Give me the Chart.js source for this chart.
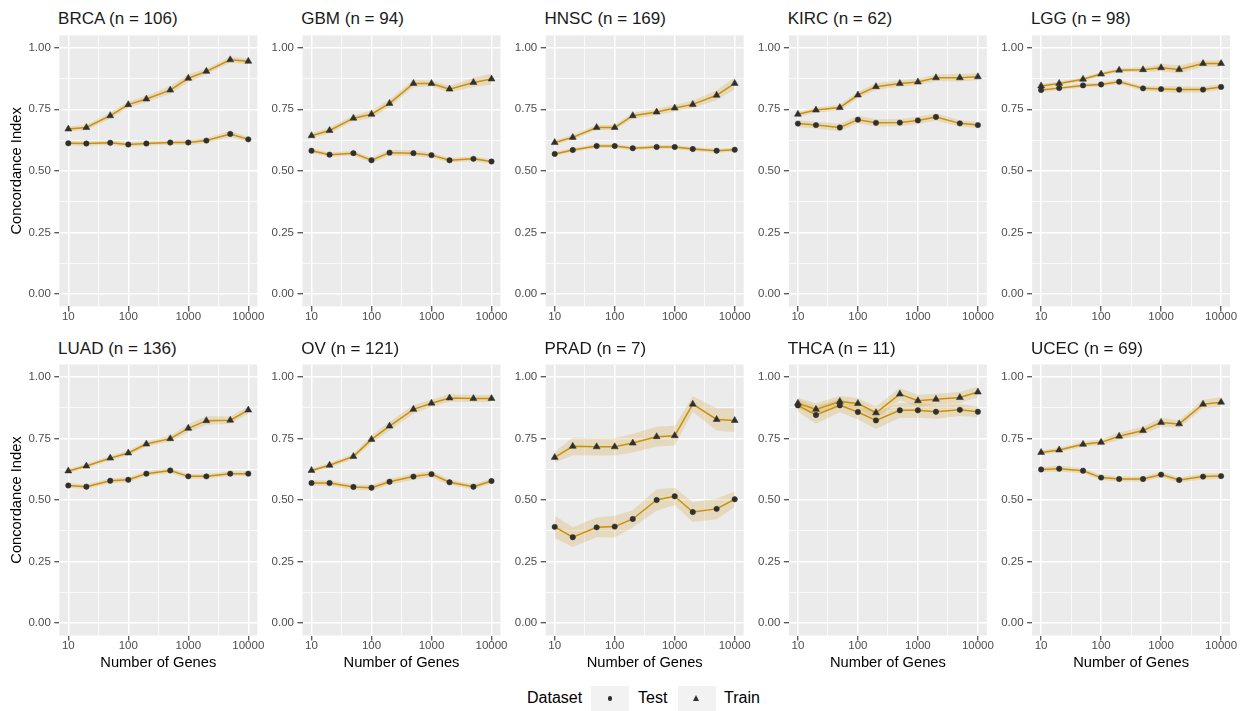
<!DOCTYPE html>
<html>
<head>
<meta charset="utf-8">
<script src="https://cdn.jsdelivr.net/npm/chart.js@4.4.1/dist/chart.umd.min.js"></script>
<style>
  body { margin: 0; background: #fff; width: 1245px; height: 711px; overflow: hidden; position: relative;
         font-family: "Liberation Sans", Arial, sans-serif; }
  .panel { position: absolute; }
  .strip { position: absolute; font-size: 17px; line-height: 17px; color: #1a1a1a; white-space: nowrap; }
  .lg { position: absolute; top: 690px; font-size: 16px; line-height: 16px; color: #000; white-space: nowrap; }
  .key { position: absolute; top: 686px; width: 38px; height: 25px; background: #f2f2f2; }
  .dot { position: absolute; left: 16.6px; top: 10.1px; width: 4.8px; height: 4.8px; border-radius: 50%; background: #2f2f2f; }
  .tri { position: absolute; left: 15.2px; top: 8.5px; width: 0; height: 0;
         border-left: 3.5px solid transparent; border-right: 3.5px solid transparent; border-bottom: 6px solid #2f2f2f; }
</style>
</head>
<body>
<div id="legend">
  <span class="lg" style="left:527px">Dataset</span>
  <div class="key" style="left:591px"><div class="dot"></div></div>
  <span class="lg" style="left:638px">Test</span>
  <div class="key" style="left:678px"><div class="tri"></div></div>
  <span class="lg" style="left:724px">Train</span>
</div>
<script>
// x values (number of genes) and panel labels
const genes = [10, 20, 50, 100, 200, 500, 1000, 2000, 5000, 10000];
const cancers = ['BRCA', 'GBM', 'HNSC', 'KIRC', 'LGG', 'LUAD', 'OV', 'PRAD', 'THCA', 'UCEC'];
const sampleSizes = [106, 94, 169, 62, 98, 136, 121, 7, 11, 69];
const xTicks = [10, 100, 1000, 10000];
const yTicks = [0, 0.25, 0.5, 0.75, 1];

// concordance index per panel (mean and ribbon half width)
const brcaTrain = [0.670, 0.676, 0.724, 0.769, 0.792, 0.828, 0.876, 0.904, 0.951, 0.945];
const brcaTrainSe = [0.010, 0.010, 0.012, 0.013, 0.013, 0.016, 0.016, 0.012, 0.012, 0.012];
const brcaTest = [0.612, 0.611, 0.614, 0.607, 0.611, 0.615, 0.615, 0.623, 0.650, 0.628];
const brcaTestSe = [0.009, 0.009, 0.009, 0.009, 0.009, 0.009, 0.010, 0.010, 0.012, 0.010];

const gbmTrain = [0.643, 0.664, 0.714, 0.730, 0.774, 0.855, 0.855, 0.832, 0.859, 0.873];
const gbmTrainSe = [0.010, 0.012, 0.012, 0.016, 0.015, 0.015, 0.012, 0.014, 0.018, 0.022];
const gbmTest = [0.582, 0.566, 0.572, 0.543, 0.574, 0.572, 0.564, 0.543, 0.549, 0.538];
const gbmTestSe = [0.010, 0.009, 0.010, 0.010, 0.012, 0.012, 0.010, 0.009, 0.009, 0.009];

const hnscTrain = [0.615, 0.636, 0.676, 0.676, 0.724, 0.739, 0.755, 0.770, 0.807, 0.855];
const hnscTrainSe = [0.008, 0.010, 0.010, 0.010, 0.012, 0.013, 0.014, 0.015, 0.020, 0.024];
const hnscTest = [0.569, 0.585, 0.601, 0.601, 0.592, 0.597, 0.597, 0.589, 0.582, 0.586];
const hnscTestSe = [0.008, 0.008, 0.008, 0.008, 0.008, 0.008, 0.008, 0.008, 0.008, 0.008];

const kircTrain = [0.730, 0.747, 0.757, 0.808, 0.842, 0.855, 0.861, 0.878, 0.878, 0.882];
const kircTrainSe = [0.010, 0.010, 0.012, 0.013, 0.014, 0.013, 0.013, 0.013, 0.015, 0.014];
const kircTest = [0.692, 0.686, 0.676, 0.708, 0.695, 0.696, 0.705, 0.719, 0.693, 0.686];
const kircTestSe = [0.014, 0.014, 0.015, 0.016, 0.015, 0.015, 0.015, 0.015, 0.013, 0.012];

const lggTrain = [0.845, 0.855, 0.872, 0.893, 0.909, 0.911, 0.919, 0.912, 0.936, 0.936];
const lggTrainSe = [0.008, 0.008, 0.008, 0.008, 0.008, 0.010, 0.015, 0.017, 0.013, 0.013];
const lggTest = [0.828, 0.836, 0.847, 0.851, 0.862, 0.835, 0.832, 0.830, 0.830, 0.841];
const lggTestSe = [0.008, 0.008, 0.008, 0.008, 0.009, 0.010, 0.012, 0.014, 0.012, 0.012];

const luadTrain = [0.618, 0.638, 0.670, 0.691, 0.727, 0.749, 0.791, 0.822, 0.824, 0.865];
const luadTrainSe = [0.008, 0.009, 0.010, 0.010, 0.011, 0.012, 0.016, 0.018, 0.015, 0.015];
const luadTest = [0.559, 0.554, 0.578, 0.582, 0.607, 0.620, 0.596, 0.596, 0.607, 0.607];
const luadTestSe = [0.009, 0.009, 0.010, 0.010, 0.010, 0.010, 0.010, 0.010, 0.010, 0.010];

const ovTrain = [0.620, 0.641, 0.677, 0.746, 0.800, 0.868, 0.893, 0.914, 0.912, 0.912];
const ovTrainSe = [0.008, 0.009, 0.011, 0.016, 0.018, 0.018, 0.015, 0.015, 0.014, 0.014];
const ovTest = [0.569, 0.569, 0.553, 0.550, 0.574, 0.595, 0.605, 0.572, 0.554, 0.577];
const ovTestSe = [0.011, 0.011, 0.011, 0.011, 0.012, 0.013, 0.013, 0.011, 0.010, 0.010];

const pradTrain = [0.673, 0.718, 0.716, 0.716, 0.731, 0.757, 0.761, 0.889, 0.827, 0.823];
const pradTrainSe = [0.022, 0.036, 0.035, 0.035, 0.038, 0.040, 0.040, 0.032, 0.045, 0.048];
const pradTest = [0.391, 0.349, 0.389, 0.392, 0.423, 0.500, 0.515, 0.451, 0.464, 0.503];
const pradTestSe = [0.045, 0.040, 0.040, 0.044, 0.035, 0.044, 0.035, 0.040, 0.042, 0.032];

const thcaTrain = [0.893, 0.868, 0.900, 0.892, 0.854, 0.930, 0.903, 0.909, 0.916, 0.938];
const thcaTrainSe = [0.022, 0.025, 0.022, 0.022, 0.025, 0.025, 0.024, 0.022, 0.022, 0.022];
const thcaTest = [0.884, 0.845, 0.884, 0.857, 0.823, 0.864, 0.864, 0.858, 0.866, 0.858];
const thcaTestSe = [0.025, 0.035, 0.028, 0.030, 0.035, 0.030, 0.030, 0.028, 0.025, 0.022];

const ucecTrain = [0.693, 0.703, 0.726, 0.734, 0.759, 0.782, 0.815, 0.809, 0.889, 0.897];
const ucecTrainSe = [0.008, 0.009, 0.010, 0.012, 0.015, 0.015, 0.018, 0.015, 0.018, 0.020];
const ucecTest = [0.624, 0.627, 0.619, 0.591, 0.585, 0.585, 0.603, 0.581, 0.595, 0.597];
const ucecTestSe = [0.010, 0.012, 0.010, 0.010, 0.010, 0.010, 0.012, 0.010, 0.012, 0.012];

const trainVals = [brcaTrain, gbmTrain, hnscTrain, kircTrain, lggTrain, luadTrain, ovTrain, pradTrain, thcaTrain, ucecTrain];
const trainSe = [brcaTrainSe, gbmTrainSe, hnscTrainSe, kircTrainSe, lggTrainSe, luadTrainSe, ovTrainSe, pradTrainSe, thcaTrainSe, ucecTrainSe];
const testVals = [brcaTest, gbmTest, hnscTest, kircTest, lggTest, luadTest, ovTest, pradTest, thcaTest, ucecTest];
const testSe = [brcaTestSe, gbmTestSe, hnscTestSe, kircTestSe, lggTestSe, luadTestSe, ovTestSe, pradTestSe, thcaTestSe, ucecTestSe];

// styling
const FONT = '"Liberation Sans", Arial, sans-serif';
const lineColor = '#cc9006';
const ribbonColor = 'rgba(205,155,30,0.22)';
const pointColor = '#2f2f2f';

// grid: majors + minors halfway (in transformed space)
const xGrid = [10, Math.pow(10, 1.5), 100, Math.pow(10, 2.5), 1000, Math.pow(10, 3.5), 10000];
const yGrid = [0, 0.125, 0.25, 0.375, 0.5, 0.625, 0.75, 0.875, 1];

// facet geometry
const panelW = 198, panelH = 271;
const colLeft = c => 59.3 + 243.2 * c;
const rowTop = [35.4, 364.5];
const canvasTop = [25, 355];
const xAxisH = [24.6, 38.5];

const panelBg = {
  id: 'panelBg',
  beforeDraw(chart) {
    const { ctx, chartArea: a } = chart;
    ctx.save();
    ctx.fillStyle = '#ebebeb';
    ctx.fillRect(a.left, a.top, a.right - a.left, a.bottom - a.top);
    ctx.restore();
  }
};

function pts(vals) {
  return genes.map((g, k) => ({ x: g, y: vals[k] }));
}

function band(vals, fill) {
  return { data: pts(vals), fill: fill, backgroundColor: ribbonColor, borderColor: 'rgba(0,0,0,0)',
           borderWidth: 0, pointRadius: 0, tension: 0, order: 3 };
}

function series(vals, style, radius) {
  return { data: pts(vals), fill: false, borderColor: lineColor, borderWidth: 1.5, tension: 0,
           pointStyle: style, pointRadius: radius, pointBackgroundColor: pointColor,
           pointBorderColor: pointColor, pointBorderWidth: 0.5, order: 1 };
}

function drawPanel(i) {
  const r = Math.floor(i / 5), c = i % 5;
  const left = c === 0 ? 0 : Math.floor(colLeft(c)) - 45;
  const yW = colLeft(c) - left;
  const padTop = rowTop[r] - canvasTop[r];
  const h = Math.round(padTop + panelH + xAxisH[r]);
  const w = Math.ceil(yW + panelW + 22);
  const padRight = w - yW - panelW;

  const strip = document.createElement('div');
  strip.className = 'strip';
  strip.style.left = (colLeft(c) - 1.2) + 'px';
  strip.style.top = (r === 0 ? 10 : 340) + 'px';
  strip.textContent = cancers[i] + ' (n = ' + sampleSizes[i] + ')';
  document.body.appendChild(strip);

  const box = document.createElement('div');
  box.className = 'panel';
  box.style.left = left + 'px';
  box.style.top = canvasTop[r] + 'px';
  const cv = document.createElement('canvas');
  cv.width = w; cv.height = h;
  box.appendChild(cv);
  document.body.appendChild(box);

  const tr = trainVals[i], te = testVals[i];
  new Chart(cv, {
    type: 'line',
    data: {
      datasets: [
        band(tr.map((v, k) => v + trainSe[i][k]), '+1'),
        band(tr.map((v, k) => v - trainSe[i][k]), false),
        band(te.map((v, k) => v + testSe[i][k]), '+1'),
        band(te.map((v, k) => v - testSe[i][k]), false),
        series(tr, 'triangle', 4),
        series(te, 'circle', 2.7)
      ]
    },
    options: {
      responsive: false,
      animation: false,
      events: [],
      layout: { autoPadding: false, padding: { left: 0, top: padTop, right: padRight, bottom: 0 } },
      plugins: { legend: { display: false }, tooltip: { enabled: false } },
      scales: {
        x: {
          type: 'logarithmic',
          bounds: 'data',
          min: Math.pow(10, 0.85),
          max: Math.pow(10, 4.15),
          afterBuildTicks: s => { s.ticks = xGrid.map(v => ({ value: v })); },
          afterFit: s => { s.height = xAxisH[r]; s.paddingLeft = 0; s.paddingRight = 0; },
          border: { display: false },
          grid: {
            color: '#ffffff',
            lineWidth: ctx => xTicks.includes(ctx.tick.value) ? 1.5 : 0.75,
            tickLength: 5,
            tickWidth: 1.1,
            tickColor: ctx => xTicks.includes(ctx.tick.value) ? '#333333' : 'rgba(0,0,0,0)'
          },
          ticks: {
            autoSkip: false, maxRotation: 0, minRotation: 0, padding: 0,
            color: '#4d4d4d', font: { family: FONT, size: 11.5, lineHeight: 1 },
            callback: v => xTicks.includes(v) ? String(v) : ''
          },
          title: {
            display: r === 1, text: 'Number of Genes', color: '#000',
            font: { family: FONT, size: 14.7 }, padding: { top: 0, bottom: 2.5 }
          }
        },
        y: {
          type: 'linear',
          bounds: 'data',
          min: -0.05,
          max: 1.05,
          afterBuildTicks: s => { s.ticks = yGrid.map(v => ({ value: v })); },
          afterFit: s => { s.width = yW; s.paddingTop = 0; s.paddingBottom = 0; },
          border: { display: false },
          grid: {
            color: '#ffffff',
            lineWidth: ctx => yTicks.includes(ctx.tick.value) ? 1.5 : 0.75,
            tickLength: 5,
            tickWidth: 1.1,
            tickColor: ctx => yTicks.includes(ctx.tick.value) ? '#333333' : 'rgba(0,0,0,0)'
          },
          ticks: {
            autoSkip: false, padding: 3.5,
            color: '#4d4d4d', font: { family: FONT, size: 11.5 },
            callback: v => yTicks.includes(v) ? v.toFixed(2) : ''
          },
          title: {
            display: c === 0, text: 'Concordance Index', color: '#000',
            font: { family: FONT, size: 14.7 }, padding: { top: 8.2, bottom: 0 }
          }
        }
      }
    },
    plugins: [panelBg]
  });
}

for (let i = 0; i < cancers.length; i++) drawPanel(i);
</script>
</body>
</html>
